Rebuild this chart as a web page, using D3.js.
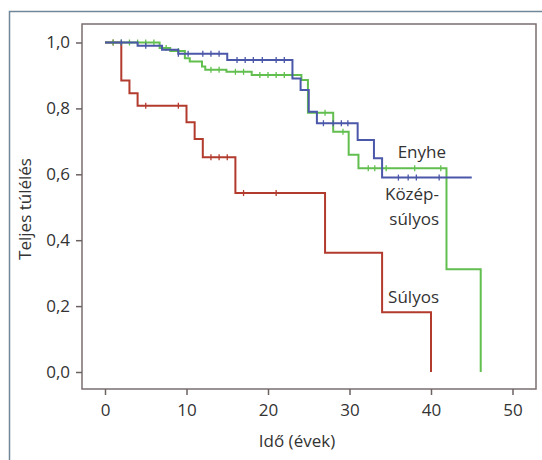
<!DOCTYPE html>
<html>
<head>
<meta charset="utf-8">
<script src="https://cdn.jsdelivr.net/npm/d3@7"></script>
<style>
    body { margin: 0; background: #fff; }
    svg text { font-family: "Open Sans", Lato, sans-serif; fill: #333; }
</style>
</head>
<body>
<div id="chart"></div>
<script>
const width = 542;
const height = 460;

// Kaplan-Meier curves: time (years) and survival at each step
const sulyosTime = [0, 2, 3, 4, 10, 11, 12, 16, 27, 34, 40];
const sulyosSurv = [1, 0.885, 0.846, 0.808, 0.758, 0.707, 0.652, 0.543, 0.362, 0.181, 0];
const sulyosCensor = [1, 5, 9, 13, 14, 15, 17, 21];

const enyheTime = [0, 4, 7, 9, 15, 23, 24, 25, 26, 31, 33, 34, 45];
const enyheSurv = [1, 0.99, 0.978, 0.966, 0.947, 0.891, 0.856, 0.79, 0.755, 0.704, 0.649, 0.59, 0.59];
const enyheCensor = [2, 5, 9, 10.2, 12, 13, 14, 16.2, 17.2, 18.2, 19.3, 21, 22, 26.8, 28, 29, 29.8, 36, 37.2, 38.2, 41];

const kozepTime = [0, 6.7, 8, 9.8, 10.4, 11.9, 12.3, 14.9, 18, 24.1, 24.9, 28, 29.9, 31.1, 41.9, 46.1];
const kozepSurv = [1, 0.983, 0.974, 0.952, 0.942, 0.927, 0.917, 0.911, 0.901, 0.886, 0.787, 0.729, 0.659, 0.618, 0.312, 0];
const kozepCensor = [1, 2, 3, 4, 5, 6, 7.5, 9, 13, 14, 16, 17, 19, 20, 21, 22, 23, 27, 29.2, 32.3, 33.1, 34.5, 38, 41.2];

const xTicks = [0, 10, 20, 30, 40, 50];
const yTicks = [0, 0.2, 0.4, 0.6, 0.8, 1.0];

const series = [
    { name: "Súlyos", time: sulyosTime, surv: sulyosSurv, censor: sulyosCensor, color: "#b23b2e" },
    { name: "Középsúlyos", time: kozepTime, surv: kozepSurv, censor: kozepCensor, color: "#62bf4f" },
    { name: "Enyhe", time: enyheTime, surv: enyheSurv, censor: enyheCensor, color: "#4b57a8" }
];

const svg = d3.select("#chart")
    .append("svg")
    .attr("width", width)
    .attr("height", height);

// outer box (only top and left visible)
svg.append("path")
    .attr("d", "M9.5,460 V11.5 H542")
    .attr("fill", "none")
    .attr("stroke", "#6f8799")
    .attr("stroke-width", 1.5);

const x = d3.scaleLinear().domain([0, 50]).range([105, 512.5]);
const y = d3.scaleLinear().domain([0, 1]).range([372, 42.5]);

// plot frame
svg.append("rect")
    .attr("x", 82).attr("y", 24)
    .attr("width", 536 - 82).attr("height", 389 - 24)
    .attr("fill", "none")
    .attr("stroke", "#7a6f6f")
    .attr("stroke-width", 1.5);

const xAxis = svg.append("g")
    .attr("transform", "translate(0,389)")
    .call(d3.axisBottom(x).tickValues(xTicks).tickSize(6).tickPadding(9).tickFormat(d3.format("d")));

const yAxis = svg.append("g")
    .attr("transform", "translate(82,0)")
    .call(d3.axisLeft(y).tickValues(yTicks).tickSize(6).tickPadding(6).tickFormat(d => d3.format(".1f")(d).replace(".", ",")));

[xAxis, yAxis].forEach(a => {
    a.select(".domain").remove();
    a.selectAll("line").attr("stroke", "#6d6262").attr("stroke-width", 1.5);
    a.selectAll("text").style("font-size", "17px").attr("fill", "#333");
});

svg.append("text")
    .attr("x", 297).attr("y", 447)
    .attr("text-anchor", "middle")
    .style("font-size", "17px")
    .text("Idő (évek)");

svg.append("text")
    .attr("transform", "translate(31,209) rotate(-90)")
    .attr("text-anchor", "middle")
    .style("font-size", "17px")
    .text("Teljes túlélés");

const line = d3.line()
    .curve(d3.curveStepAfter)
    .x(d => x(d[0]))
    .y(d => y(d[1]));

function survAt(s, t) {
    let v = s.surv[0];
    s.time.forEach((tt, i) => { if (tt <= t) v = s.surv[i]; });
    return v;
}

series.forEach(s => {
    const pts = s.time.map((t, i) => [t, s.surv[i]]);
    svg.append("path")
        .datum(pts)
        .attr("d", line)
        .attr("fill", "none")
        .attr("stroke", s.color)
        .attr("stroke-width", 2);

    svg.append("g")
        .selectAll("line")
        .data(s.censor)
        .join("line")
        .attr("x1", d => x(d)).attr("x2", d => x(d))
        .attr("y1", d => y(survAt(s, d)) - 3)
        .attr("y2", d => y(survAt(s, d)) + 3)
        .attr("stroke", s.color)
        .attr("stroke-width", 1.3);
});

// curve labels
const labels = [
    { text: "Enyhe", x: 446, y: 158 },
    { text: "Közép-", x: 439, y: 200 },
    { text: "súlyos", x: 439, y: 225 },
    { text: "Súlyos", x: 439, y: 303 }
];
svg.append("g")
    .selectAll("text")
    .data(labels)
    .join("text")
    .attr("x", d => d.x).attr("y", d => d.y)
    .attr("text-anchor", "end")
    .style("font-size", "17px")
    .text(d => d.text);
</script>
</body>
</html>
